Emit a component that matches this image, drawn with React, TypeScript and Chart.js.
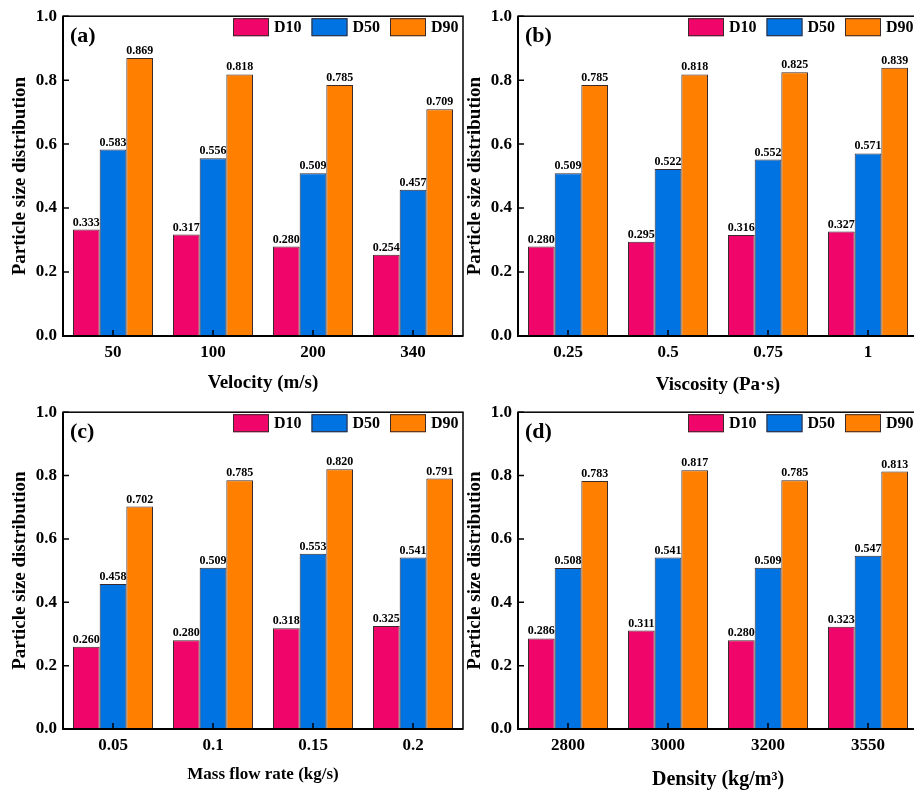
import React, { useEffect, useRef } from 'react';
import { Chart, registerables } from 'chart.js';
Chart.register(...registerables);

const SERIES = ['D10', 'D50', 'D90'];
const COLORS = ['#F0056B', '#0073E3', '#FF7F00'];
const FONT = "'Liberation Serif', 'Times New Roman', serif";
const Y_TICKS = [0, 0.2, 0.4, 0.6, 0.8, 1.0];

const catsA = ['50', '100', '200', '340'];
const a_D10 = [0.333, 0.317, 0.280, 0.254];
const a_D50 = [0.583, 0.556, 0.509, 0.457];
const a_D90 = [0.869, 0.818, 0.785, 0.709];

const catsB = ['0.25', '0.5', '0.75', '1'];
const b_D10 = [0.280, 0.295, 0.316, 0.327];
const b_D50 = [0.509, 0.522, 0.552, 0.571];
const b_D90 = [0.785, 0.818, 0.825, 0.839];

const catsC = ['0.05', '0.1', '0.15', '0.2'];
const c_D10 = [0.260, 0.280, 0.318, 0.325];
const c_D50 = [0.458, 0.509, 0.553, 0.541];
const c_D90 = [0.702, 0.785, 0.820, 0.791];

const catsD = ['2800', '3000', '3200', '3550'];
const d_D10 = [0.286, 0.311, 0.280, 0.323];
const d_D50 = [0.508, 0.541, 0.509, 0.547];
const d_D90 = [0.783, 0.817, 0.785, 0.813];

const decor = {
  id: 'decor',
  afterDatasetsDraw(chart: any, _args: any, opts: any) {
    const ctx = chart.ctx;
    const { left, right, top, bottom } = chart.chartArea;
    ctx.save();
    // value labels
    ctx.font = `bold 12px ${FONT}`;
    ctx.fillStyle = '#000';
    ctx.textAlign = 'center';
    ctx.textBaseline = 'bottom';
    chart.data.datasets.forEach((ds: any, i: number) => {
      const meta = chart.getDatasetMeta(i);
      meta.data.forEach((bar: any, j: number) => {
        ctx.fillText(Number(ds.data[j]).toFixed(3), bar.x, bar.y - 1);
      });
    });
    // frame
    ctx.strokeStyle = '#000';
    ctx.lineWidth = 1.5;
    ctx.strokeRect(left, top, right - left, bottom - top);
    ctx.lineWidth = 2;
    ctx.beginPath();
    ctx.moveTo(left, top);
    ctx.lineTo(left, bottom);
    ctx.lineTo(right, bottom);
    ctx.stroke();
    // inward ticks
    const ys = chart.scales.y;
    const xs = chart.scales.x;
    ctx.lineWidth = 1.5;
    ctx.beginPath();
    ys.ticks.forEach((t: any) => {
      const py = ys.getPixelForValue(t.value);
      ctx.moveTo(left, py);
      ctx.lineTo(left + 6, py);
    });
    xs.ticks.forEach((_t: any, k: number) => {
      const px = xs.getPixelForTick(k);
      ctx.moveTo(px, bottom);
      ctx.lineTo(px, bottom - 6);
    });
    ctx.stroke();
    // legend
    ctx.font = `bold 16px ${FONT}`;
    ctx.textAlign = 'left';
    ctx.textBaseline = 'middle';
    chart.data.datasets.forEach((ds: any, k: number) => {
      const bx = left + 170 + k * 78.5;
      const by = top + 2;
      ctx.fillStyle = ds.backgroundColor;
      ctx.fillRect(bx, by, 36, 18);
      ctx.lineWidth = 1;
      ctx.strokeStyle = '#3a2a2a';
      ctx.strokeRect(bx + 0.5, by + 0.5, 35, 17);
      ctx.fillStyle = '#000';
      ctx.fillText(ds.label, bx + 41, by + 10);
    });
    // panel label
    ctx.font = `bold 22px ${FONT}`;
    ctx.fillStyle = '#000';
    ctx.fillText(opts.label, left + 7, top + 20);
    ctx.restore();
  },
};

type PanelProps = {
  x: number; y: number; w: number; h: number;
  yAxisW: number; xAxisH: number; padTop: number; padRight: number;
  yTitlePad: number; xTitle: string; xTitleSize: number; xTitlePad: number;
  label: string; cats: string[]; d10: number[]; d50: number[]; d90: number[];
};

function Panel(p: PanelProps) {
  const ref = useRef<HTMLCanvasElement>(null);
  useEffect(() => {
    const vals = [p.d10, p.d50, p.d90];
    const chart = new Chart(ref.current as HTMLCanvasElement, {
      type: 'bar',
      data: {
        labels: p.cats,
        datasets: SERIES.map((s, i) => ({
          label: s,
          data: vals[i],
          backgroundColor: COLORS[i],
          borderColor: '#3a2a2a',
          borderWidth: 1,
          categoryPercentage: 0.8,
          barPercentage: 1,
        })),
      },
      options: {
        responsive: false,
        animation: false,
        devicePixelRatio: 1,
        layout: { padding: { top: p.padTop, right: p.padRight, left: 0, bottom: 0 } },
        plugins: {
          legend: { display: false },
          tooltip: { enabled: false },
          decor: { label: p.label },
        } as any,
        scales: {
          x: {
            grid: { display: false, drawTicks: false },
            border: { display: false },
            ticks: { color: '#000', padding: 6, font: { family: FONT, size: 17, weight: 'bold' } },
            title: {
              display: true, text: p.xTitle, color: '#000',
              font: { family: FONT, size: p.xTitleSize, weight: 'bold' },
              padding: { top: 0, bottom: p.xTitlePad },
            },
            afterFit: (s: any) => { s.height = p.xAxisH; },
          },
          y: {
            min: 0, max: 1,
            afterBuildTicks: (s: any) => { s.ticks = Y_TICKS.map((v) => ({ value: v })); },
            grid: { display: false, drawTicks: false },
            border: { display: false },
            ticks: {
              color: '#000', padding: 6,
              font: { family: FONT, size: 17, weight: 'bold' },
              callback: (v: any) => Number(v).toFixed(1),
            },
            title: {
              display: true, text: 'Particle size distribution', color: '#000',
              font: { family: FONT, size: 19, weight: 'bold' },
              padding: { top: p.yTitlePad, bottom: 0 },
            },
            afterFit: (s: any) => { s.width = p.yAxisW; },
          },
        },
      },
      plugins: [decor],
    } as any);
    return () => chart.destroy();
  }, []);
  return (
    <canvas
      ref={ref}
      width={p.w}
      height={p.h}
      style={{ position: 'absolute', left: p.x, top: p.y, width: p.w, height: p.h }}
    />
  );
}

export default function App() {
  return (
    <div style={{ position: 'absolute', left: 0, top: 0, width: 914, height: 793, overflow: 'hidden', background: '#fff' }}>
      <Panel x={0} y={0} w={470} h={396} yAxisW={63} xAxisH={60} padTop={16} padRight={7}
        yTitlePad={9} xTitle="Velocity (m/s)" xTitleSize={19} xTitlePad={2}
        label="(a)" cats={catsA} d10={a_D10} d50={a_D50} d90={a_D90} />
      <Panel x={457} y={0} w={468} h={396} yAxisW={61} xAxisH={60} padTop={16} padRight={7}
        yTitlePad={7} xTitle="Viscosity (Pa·s)" xTitleSize={19} xTitlePad={0}
        label="(b)" cats={catsB} d10={b_D10} d50={b_D50} d90={b_D90} />
      <Panel x={0} y={396} w={470} h={397} yAxisW={63} xAxisH={64} padTop={13} padRight={7}
        yTitlePad={9} xTitle="Mass flow rate (kg/s)" xTitleSize={17} xTitlePad={8}
        label="(c)" cats={catsC} d10={c_D10} d50={c_D50} d90={c_D90} />
      <Panel x={457} y={396} w={468} h={397} yAxisW={61} xAxisH={64} padTop={13} padRight={7}
        yTitlePad={7} xTitle="Density (kg/m³)" xTitleSize={20} xTitlePad={1}
        label="(d)" cats={catsD} d10={d_D10} d50={d_D50} d90={d_D90} />
    </div>
  );
}
